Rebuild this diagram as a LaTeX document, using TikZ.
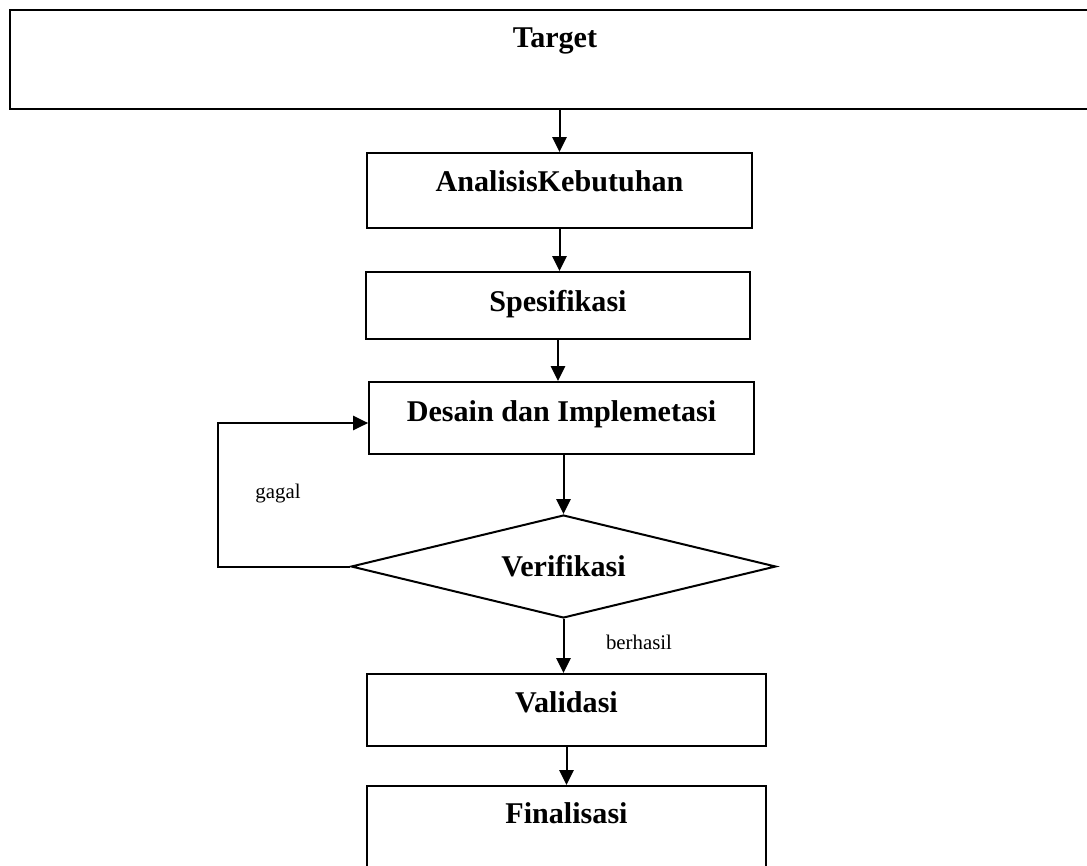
\documentclass[tikz,border=0pt]{standalone}
\usepackage{fontspec}
\setmainfont{Liberation Serif}
\usetikzlibrary{arrows.meta, shapes.geometric}

\begin{document}
\begin{tikzpicture}[x=0.014cm, y=-0.014cm, line width=0.8pt,
	box/.style={draw, rectangle, inner sep=0pt, anchor=base, font=\fontsize{12}{14}\selectfont\bfseries},
	decision/.style={draw, diamond, aspect=4.13, inner sep=0pt, font=\fontsize{12}{14}\selectfont\bfseries},
	arr/.style={-{Triangle[length=0.21cm, width=0.2cm]}},
	note/.style={inner sep=0pt, anchor=base, font=\fontsize{8.3}{10}\selectfont}]
			\useasboundingbox (0,0) rectangle (1087,866);
			
			\node[box, minimum width=15.26cm, text height=0.518cm, text depth=0.868cm] (target) at (555,47) {Target};
			\node[box, minimum width=5.39cm, text height=0.532cm, text depth=0.518cm] (analisis) at (559.5,191) {AnalisisKebutuhan};
			\node[box, minimum width=5.376cm, text height=0.546cm, text depth=0.392cm] (spesifikasi) at (558,311) {Spesifikasi};
			\node[box, minimum width=5.39cm, text height=0.546cm, text depth=0.462cm] (desain) at (561.5,421) {Desain dan Implemetasi};
			\node[decision, minimum width=5.95cm, minimum height=1.442cm] (verif) at (563.5,566.5) {Verifikasi};
			\node[box, minimum width=5.586cm, text height=0.532cm, text depth=0.476cm] (validasi) at (566.5,712) {Validasi};
			\node[box, minimum width=5.586cm, text height=0.518cm, text depth=0.798cm] (final) at (566.5,823) {Finalisasi};
			
			\node[note] (gagal) at (278,498) {gagal};
			\node[note] (berhasil) at (639,649) {berhasil};
			\coordinate (back) at (218,568);
			
			\draw[arr] (target.south -| analisis.north) -- (analisis.north);
			\draw[arr] (analisis.south) -- (analisis.south |- spesifikasi.north);
			\draw[arr] (spesifikasi.south) -- (spesifikasi.south |- desain.north);
			\draw[arr] (verif.north |- desain.south) -- (verif.north);
			\draw[arr] (verif.south) -- (verif.south |- validasi.north);
			\draw[arr] (validasi.south) -- (validasi.south |- final.north);
			
			\draw[arr] (verif.west) -- (verif.west -| back) |- ([yshift=-0.07cm]desain.west);
			
			\end{tikzpicture}
\end{document}
